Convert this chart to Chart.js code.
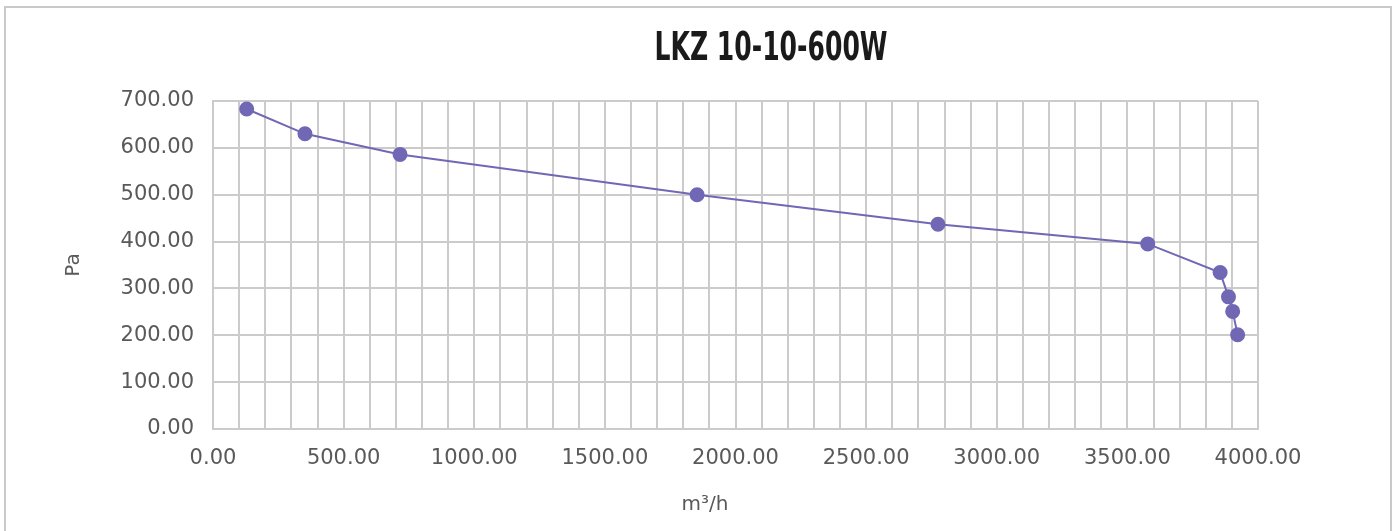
<!DOCTYPE html>
<html>
<head>
<meta charset="utf-8">
<script src="https://cdn.jsdelivr.net/npm/chart.js@4/dist/chart.umd.min.js"></script>
<style>
  html, body { margin: 0; padding: 0; background: #fff; overflow: hidden; }
  #frame { position: absolute; left: 4px; top: 6px; width: 1384px; height: 600px; border: 2px solid #c9c9c9; }
  #wrap { position: absolute; left: 0; top: 0; width: 1397px; height: 531px; }
</style>
</head>
<body>
<div id="frame"></div>
<div id="wrap"><canvas id="mycanvas" width="1397" height="531"></canvas></div>
<script>
// fan curve
var titleText = 'LKZ 10-10-600W';
var xTitle = 'm³/h';
var flow = [129, 352, 716, 1853, 2775, 3578, 3855, 3887, 3903, 3922];      // m³/h
var pressure = [683, 630, 586, 500, 437, 395, 334, 282, 251, 201];          // Pa
var xTicks = [0, 500, 1000, 1500, 2000, 2500, 3000, 3500, 4000];
var yTicks = [0, 100, 200, 300, 400, 500, 600, 700];

var gridColor = '#cbcbcb';
var textColor = '#595959';
var lineColor = '#7068b4';

// title + x axis name drawn where they sit in the original
var titlePlugin = {
  id: 'fanTitle',
  afterDraw: function(chart){
    var ctx = chart.ctx;
    ctx.save();
    ctx.font = 'bold 39px "DejaVu Sans"';
    ctx.fillStyle = '#1a1a1a';
    ctx.textAlign = 'center';
    ctx.textBaseline = 'middle';
    var w = ctx.measureText(titleText).width;
    ctx.translate(771, 50);
    ctx.scale(233 / w, 1);   // squeeze like a condensed face
    ctx.fillText(titleText, 0, 0);
    ctx.restore();

    ctx.save();
    ctx.font = '20px "DejaVu Sans"';
    ctx.fillStyle = textColor;
    ctx.textAlign = 'center';
    ctx.textBaseline = 'middle';
    ctx.fillText(xTitle, 705, 505);
    ctx.restore();
  }
};

var points = [];
for(var i = 0; i < flow.length; i++){
  points.push({x: flow[i], y: pressure[i]});
}

var ctx = document.getElementById('mycanvas');
var mycanvas = new Chart(ctx, {
  type: 'scatter',
  data: {
    datasets: [{
      label: 'Pa',
      data: points,
      showLine: true,
      borderColor: lineColor,
      backgroundColor: lineColor,
      borderWidth: 2,
      pointRadius: 6.5,
      pointHoverRadius: 6.5
    }]
  },
  options: {
    responsive: false,
    animation: false,
    layout: { padding: { top: 101, right: 139, bottom: 0, left: 0 } },
    plugins: {
      legend: { display: false },
      title: { display: false },
      tooltip: { enabled: false }
    },
    scales: {
      x: {
        type: 'linear',
        min: 0,
        max: 4000,
        afterFit: function(scale){ scale.height = 102; },
        grid: { color: gridColor, lineWidth: 2, drawTicks: false },
        border: { color: gridColor, width: 2 },
        ticks: {
          stepSize: 100,
          autoSkip: false,
          maxRotation: 0,
          minRotation: 0,
          padding: 17,
          color: textColor,
          font: { family: 'DejaVu Sans', size: 21 },
          callback: function(v){ return xTicks.indexOf(v) >= 0 ? v.toFixed(2) : ''; }
        },
        title: { display: false }
      },
      y: {
        min: 0,
        max: 700,
        afterFit: function(scale){ scale.width = 213; },
        grid: { color: gridColor, lineWidth: 2, drawTicks: false },
        border: { color: gridColor, width: 2 },
        ticks: {
          stepSize: 100,
          padding: 19,
          color: textColor,
          font: { family: 'DejaVu Sans', size: 21 },
          callback: function(v){ return yTicks.indexOf(v) >= 0 ? v.toFixed(2) : ''; }
        },
        title: {
          display: true,
          text: 'Pa',
          color: textColor,
          font: { family: 'DejaVu Sans', size: 20 },
          padding: { top: 62, bottom: 0 }
        }
      }
    }
  },
  plugins: [titlePlugin]
});
</script>
</body>
</html>
